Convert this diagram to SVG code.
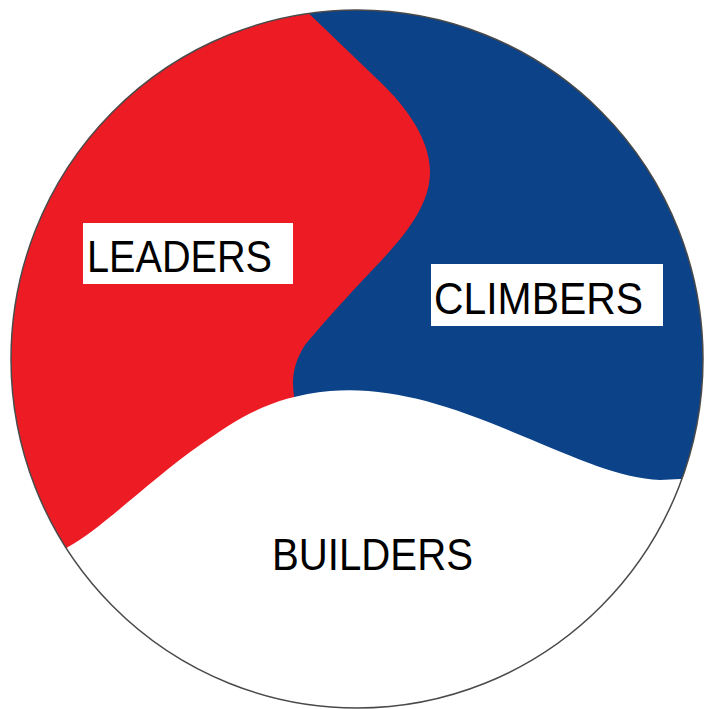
<svg xmlns="http://www.w3.org/2000/svg" width="704" height="709" viewBox="0 0 704 709">
  <style>
    .lbl { font-family: "Liberation Sans", Arial, sans-serif; font-size: 45px; fill: #000000; }
    .box { fill: #ffffff; }
  </style>
  <defs>
    <clipPath id="circ">
      <ellipse cx="357" cy="359" rx="346" ry="349"/>
    </clipPath>
  </defs>
  <rect width="704" height="709" fill="#ffffff"/>
  <g clip-path="url(#circ)">
    <g id="leaders-region">
      <rect x="0" y="0" width="704" height="709" fill="#ED1C24"/>
    </g>
    <g id="climbers-region">
      <path d="M 300,5 L 375,77 C 400,100 430,135 430,172 C 430,205 405,235 380,262 C 360,283 330,315 305,345 C 292,365 292,382 294,396 L 294,520 L 720,520 L 720,0 L 300,0 Z" fill="#0B4288"/>
    </g>
    <g id="builders-region">
      <path d="M 40,570 L 68,547 C 100,530 150,480 200,445 C 240,417 270,397 330,391 C 390,386 450,405 520,435 C 580,460 620,478 660,480 L 700,478 L 720,478 L 720,720 L 0,720 Z" fill="#ffffff"/>
    </g>
  </g>
  <ellipse cx="357" cy="359" rx="346" ry="349" fill="none" stroke="#4a4a4a" stroke-width="1.5"/>
  <g id="leaders">
    <rect class="box" x="83" y="223" width="210" height="61"/>
    <text class="lbl" x="87" y="272" textLength="185" lengthAdjust="spacingAndGlyphs">LEADERS</text>
  </g>
  <g id="climbers">
    <rect class="box" x="431" y="264" width="232" height="62"/>
    <text class="lbl" x="434" y="314" textLength="209" lengthAdjust="spacingAndGlyphs">CLIMBERS</text>
  </g>
  <g id="builders">
    <text class="lbl" x="272" y="570" textLength="201" lengthAdjust="spacingAndGlyphs">BUILDERS</text>
  </g>
</svg>
